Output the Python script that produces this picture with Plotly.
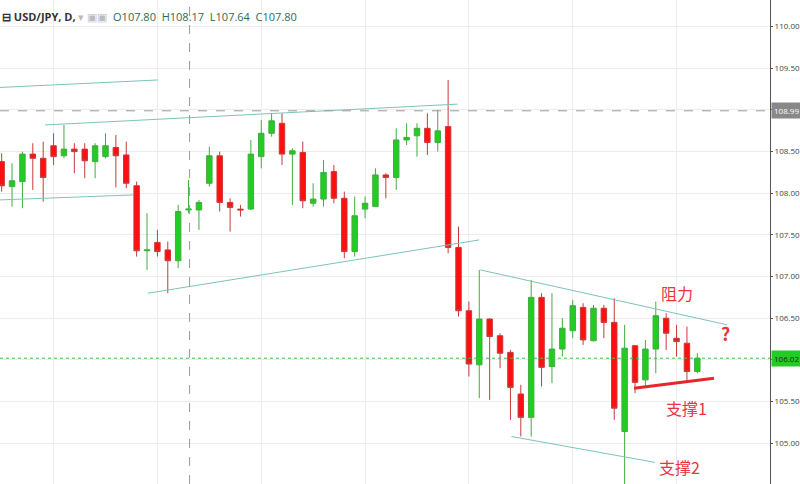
import plotly.graph_objects as go

# daily candles
opens = [108.38, 108.08, 108.14, 108.47, 108.42, 108.57, 108.45, 108.53, 108.53, 108.38,
         108.44, 108.55, 108.46, 108.09, 107.31, 107.41, 107.32, 107.19, 107.80, 107.80,
         108.12, 108.45, 107.89, 107.81, 107.81, 108.44, 108.72, 108.84, 108.47, 108.49,
         107.88, 107.93, 108.26, 107.94, 107.30, 107.81, 107.84, 108.22, 108.19, 108.64,
         108.69, 108.78, 108.61, 108.80, 107.35, 106.59, 105.94, 106.49, 106.29, 106.09,
         105.59, 105.31, 106.75, 105.92, 106.13, 106.35, 106.63, 106.23, 106.62, 106.45,
         105.14, 106.17, 105.76, 106.13, 106.50, 106.26, 106.20, 105.86]
highs = [108.48, 108.36, 108.50, 108.60, 108.62, 108.72, 108.82, 108.60, 108.60, 108.60,
         108.72, 108.70, 108.62, 108.14, 107.76, 107.56, 107.42, 107.86, 108.16, 107.92,
         108.56, 108.50, 107.94, 107.86, 108.64, 108.88, 108.96, 108.96, 108.54, 108.62,
         108.12, 108.40, 108.34, 108.02, 107.96, 107.96, 108.30, 108.24, 108.78, 108.84,
         108.84, 108.96, 109.00, 109.36, 107.60, 106.70, 107.08, 106.50, 106.32, 106.12,
         105.70, 106.96, 106.80, 106.80, 106.50, 106.72, 106.68, 106.66, 106.66, 106.74,
         106.42, 106.18, 106.24, 106.70, 106.56, 106.42, 106.40, 106.08]
lows = [108.02, 107.84, 107.82, 108.04, 107.90, 108.34, 108.42, 108.24, 108.18, 108.18,
        108.42, 108.07, 108.06, 107.24, 107.08, 107.24, 106.80, 107.10, 107.76, 107.56,
        108.08, 107.78, 107.54, 107.72, 107.80, 108.30, 108.68, 108.34, 107.86, 107.82,
        107.84, 107.84, 107.88, 107.22, 107.24, 107.70, 107.84, 107.94, 108.04, 108.58,
        108.44, 108.46, 108.50, 107.28, 106.52, 105.80, 105.54, 105.52, 105.90, 105.28,
        105.08, 105.08, 105.68, 105.72, 106.04, 106.26, 106.18, 106.22, 106.26, 105.28,
        104.51, 105.60, 105.69, 105.84, 106.12, 106.04, 105.74, 105.84]
closes = [108.09, 108.15, 108.47, 108.42, 108.19, 108.44, 108.53, 108.50, 108.39, 108.57,
          108.57, 108.45, 108.12, 107.31, 107.32, 107.30, 107.19, 107.78, 107.81, 107.89,
          108.45, 107.89, 107.83, 107.80, 108.47, 108.72, 108.87, 108.47, 108.51, 107.91,
          107.93, 108.25, 107.94, 107.30, 107.73, 107.88, 108.22, 108.19, 108.64, 108.67,
          108.78, 108.61, 108.75, 107.35, 106.59, 105.95, 106.49, 106.28, 106.08, 105.67,
          105.31, 106.75, 105.91, 106.13, 106.38, 106.65, 106.24, 106.62, 106.45, 105.42,
          106.14, 105.73, 106.13, 106.53, 106.32, 106.22, 105.86, 106.02]
days = list(range(len(opens)))

# drawn trend lines: (x0, y0, x1, y1, colour, width)
trend_lines = [
    (-0.2, 109.27, 15.05, 109.36, "#7cc4b8", 1),
    (4.17, 108.82, 43.9, 109.07, "#7cc4b8", 1),
    (-0.2, 107.92, 12.64, 107.98, "#7cc4b8", 1),
    (14.08, 106.80, 46.0, 107.44, "#7cc4b8", 1),
    (46.1, 107.08, 69.9, 106.42, "#7cc4b8", 1),
    (49.1, 105.08, 62.9, 104.77, "#7cc4b8", 1),
    (60.9, 105.66, 68.6, 105.78, "#e8242c", 3),
]
notes = [(65.0, 106.80, "阻力"), (66.0, 105.42, "支撑1"), (65.3, 104.72, "支撑2")]

fig = go.Figure(go.Candlestick(
    x=days, open=opens, high=highs, low=lows, close=closes,
    increasing=dict(line=dict(color="#3fae3f", width=1), fillcolor="#22cc22"),
    decreasing=dict(line=dict(color="#c83a3a", width=1), fillcolor="#ff0f0f"),
    whiskerwidth=0, showlegend=False, hoverinfo="skip",
))

for x0, y0, x1, y1, col, w in trend_lines:
    fig.add_shape(type="line", x0=x0, y0=y0, x1=x1, y1=y1, line=dict(color=col, width=w))

# crosshair + last price line
fig.add_shape(type="line", xref="x", yref="paper", x0=18.1, x1=18.1, y0=0, y1=1,
              line=dict(color="#999", width=1, dash="dash"))
fig.add_shape(type="line", xref="paper", x0=0, x1=1, y0=108.99, y1=108.99,
              line=dict(color="#999", width=1, dash="dash"))
fig.add_shape(type="line", xref="paper", x0=0, x1=1, y0=106.02, y1=106.02,
              line=dict(color="#39c739", width=1, dash="dot"))

for x, y, t in notes:
    fig.add_annotation(x=x, y=y, text=t, showarrow=False,
                       font=dict(family="Noto Sans CJK SC", size=16, color="#e8343c"))
fig.add_annotation(x=69.7, y=106.32, text="<b>?</b>", showarrow=False,
                   font=dict(family="Noto Sans CJK SC", size=18, color="#e8343c"))

fig.add_annotation(xref="paper", yref="y", x=1.0, y=108.99, xanchor="left", text="108.99",
                   showarrow=False, bgcolor="#888", font=dict(size=8, color="white"),
                   borderpad=2, xshift=1)
fig.add_annotation(xref="paper", yref="y", x=1.0, y=106.02, xanchor="left", text="106.02",
                   showarrow=False, bgcolor="#22cc22", font=dict(size=8, color="#222"),
                   borderpad=2, xshift=1)

fig.add_annotation(xref="paper", yref="paper", x=0.0, y=0.985, xanchor="left", showarrow=False,
                   text="<b>⊟ USD/JPY, D,</b> <span style='color:#bbb'>▾ ▣▣</span>  "
                        "<span style='color:#2e6b55'>O107.80  H108.17  L107.64  C107.80</span>",
                   font=dict(family="Open Sans", size=11, color="#333"))

fig.update_layout(
    width=800, height=484, margin=dict(l=0, r=30, t=0, b=0),
    plot_bgcolor="white", paper_bgcolor="white", boxgap=0.25,
    xaxis=dict(range=[-0.16, 74.0], rangeslider=dict(visible=False), showticklabels=False,
               tick0=5, dtick=10, showgrid=True, gridcolor="#ececec", zeroline=False),
    yaxis=dict(range=[104.51, 110.32], side="right", tick0=104.5, dtick=0.5, tickformat=".2f",
               showgrid=True, gridcolor="#ececec", zeroline=False, showline=True,
               linecolor="#555", ticks="outside", ticklen=2, tickcolor="#555",
               automargin=False,
               tickfont=dict(family="Open Sans", size=8, color="#444")),
)

# page margin off so the figure sits at the window corner
fig.write_html("out.html", config={"displayModeBar": False},
               post_script="document.body.style.margin='0';")
